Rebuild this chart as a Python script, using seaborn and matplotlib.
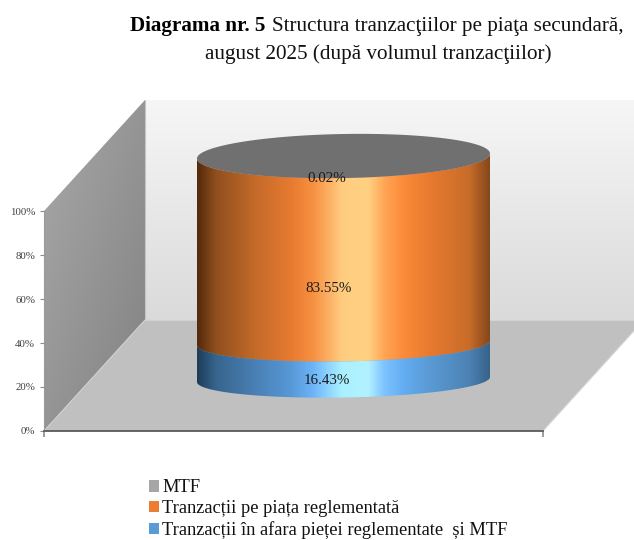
import numpy as np
import pandas as pd
import matplotlib
matplotlib.use("Agg")
import matplotlib.pyplot as plt
from matplotlib.colors import LinearSegmentedColormap
from matplotlib.patches import Polygon, Patch
import seaborn as sns

# ---- data -------------------------------------------------------------
series = ["MTF", "Tranzacții pe piața reglementată", "Tranzacții în afara pieței reglementate  și MTF"]
values = [0.02, 83.55, 16.43]
value_labels = ["0.02%", "83.55%", "16.43%"]
y_ticks = [0, 20, 40, 60, 80, 100]
y_tick_labels = ["0%", "20%", "40%", "60%", "80%", "100%"]
legend_colors = ["#a6a6a6", "#ed7d31", "#5b9bd5"]

# ---- style ------------------------------------------------------------
sns.set_theme(style="white")
plt.rcParams["font.family"] = ["Liberation Serif", "DejaVu Serif"]
W, H = 634, 540
fig = plt.figure(figsize=(W / 100, H / 100), dpi=100, facecolor="white")

def add_px_axes(x0, y_top, x1, y_bot):
    return fig.add_axes([x0 / W, 1 - y_bot / H, (x1 - x0) / W, (y_bot - y_top) / H])

# ---- 3-D frame (pixel space decoration) --------------------------------
bg = add_px_axes(0, 0, W, H)
bg.set_xlim(0, W); bg.set_ylim(H, 0); bg.axis("off")

def grad_poly(ax, pts, colors, diagonal=False, **kw):
    cmap = LinearSegmentedColormap.from_list("g", colors)
    pts = np.array(pts, float)
    x0, x1, y0, y1 = pts[:, 0].min(), pts[:, 0].max(), pts[:, 1].min(), pts[:, 1].max()
    v = np.linspace(0, 1, 256)
    arr = (v[:, None] + v[None, :]) / 2 if diagonal else v[:, None]
    im = ax.imshow(arr, cmap=cmap, extent=[x0, x1, y1, y0], aspect="auto", origin="upper", vmin=0, vmax=1)
    p = Polygon(pts, closed=True, transform=ax.transData, fc="none", ec="none")
    ax.add_patch(p)
    im.set_clip_path(p)

grad_poly(bg, [(145, 100), (634, 100), (634, 320), (145, 320)], ["#f6f6f6", "#dadada"])
grad_poly(bg, [(44, 211), (145, 100), (145, 320), (44, 431)], ["#a8a8a8", "#828282"], diagonal=True)
bg.add_patch(Polygon([(44, 431), (145, 320), (634, 320), (634, 331), (543, 431)], fc="#c0c0c0", ec="none"))
bg.plot([145, 145], [100, 320], color="#c4c4c4", lw=0.8)
bg.plot([44, 145], [431, 320], color="#d0d0d0", lw=0.8)
bg.plot([145, 634], [320, 320], color="#d2d2d2", lw=0.8)
bg.plot([543, 634], [431, 331], color="#d8d8d8", lw=0.8)
bg.set_xlim(0, W); bg.set_ylim(H, 0)

# ---- value axis --------------------------------------------------------
ax = add_px_axes(44, 211, 543, 431)
ax.patch.set_alpha(0)
ax.set_ylim(0, 100); ax.set_xlim(0, 1)
ax.set_yticks(y_ticks, y_tick_labels)
ax.set_xticks([0, 1], ["", ""])
ax.tick_params(axis="y", length=2.9, width=0.8, color="#8c8c8c", labelcolor="#404040", labelsize=7.8, pad=3.5, left=True)
ax.tick_params(axis="x", length=4, width=1.2, color="#8c8c8c", bottom=True)
for s in ["top", "right"]:
    ax.spines[s].set_visible(False)
ax.spines["left"].set_color("#9a9a9a"); ax.spines["left"].set_linewidth(0.8)
ax.spines["bottom"].set_color("#5a5a5a"); ax.spines["bottom"].set_linewidth(1.3)

# ---- cylinder: stacked values on a percent axis --------------------------
Y0_PX, Y100_PX = 379.5, 156.0
px_per = (Y0_PX - Y100_PX) / 100
PAD = 15
cyl = add_px_axes(197, Y100_PX - PAD * px_per, 490, Y0_PX + PAD * px_per)
cyl.patch.set_alpha(0)

tops = np.cumsum(values[::-1])[::-1]
df = pd.DataFrame({"group": ["total"] * 3, "top": tops, "series": series})
sns.barplot(data=df, x="group", y="top", hue="series", hue_order=series, dodge=False,
            width=1.0, palette=legend_colors, legend=False, errorbar=None, ax=cyl)
cyl.set_xlim(-0.5, 0.5)
cyl.set_ylim(-PAD, 100 + PAD)
cyl.axis("off")

def tilt(x):
    return 2.24 * x

def semi(y):
    return (18 + 4 * y / 100) * (1 / px_per) * 1.0

def front_arc(y):
    t = np.linspace(np.pi, 2 * np.pi, 200)
    x = 0.5 * np.cos(t)
    return x, y + tilt(x) + semi(y) * np.sin(t)

stops_x = [197, 215, 255, 290, 312, 325, 342, 368, 385, 405, 430, 470, 490]
orange = ["#54290c", "#8f4f1e", "#c46a2a", "#e67a30", "#f78f40", "#fba85c", "#ffcd80", "#ffd182",
          "#ffa454", "#fb8a38", "#e87a30", "#c86c29", "#84481c"]
blue = ["#1e3c58", "#36648c", "#4a80b5", "#5698d6", "#6cb2f6", "#86cdff", "#aaf0ff", "#b2f2ff",
        "#7cc2ff", "#62acf0", "#5a9ad4", "#4c82b4", "#38628a"]
pos = [(s - 197) / (490 - 197) for s in stops_x]

bars = [c[0] for c in cyl.containers]
for patch, lo, colors in [(bars[1], tops[2], orange), (bars[2], 0.0, blue)]:
    hi = patch.get_height()
    xa, ya = front_arc(lo)
    xb, yb = front_arc(hi)
    body = Polygon(np.r_[np.c_[xa, ya], np.c_[xb[::-1], yb[::-1]]], closed=True,
                   transform=cyl.transData, fc="none", ec="none")
    cyl.add_patch(body)
    patch.set_clip_path(body)
    cm = LinearSegmentedColormap.from_list("c", list(zip(pos, colors)))
    im = cyl.imshow(np.linspace(0, 1, 512)[None, :], cmap=cm, aspect="auto", vmin=0, vmax=1,
                    extent=[-0.5, 0.5, -PAD, 100 + PAD], zorder=3)
    im.set_clip_path(body)

# top face of the stack (MTF)
t = np.linspace(0, 2 * np.pi, 400)
x_top = 0.5 * np.cos(t)
top_h = bars[0].get_height()
top_y = top_h + tilt(x_top) + semi(top_h) * np.sin(t)
lid = Polygon(np.c_[x_top, top_y], closed=True, fc="#707070", ec="none", zorder=4)
cyl.add_patch(lid)
bars[0].set_clip_path(lid)
cyl.set_xlim(-0.5, 0.5)
cyl.set_ylim(-PAD, 100 + PAD)

# data labels
for lab, yy, xx in zip(value_labels, [89.8, 40.6, -0.4], [-0.0565, -0.0525, -0.0555]):
    cyl.text(xx, yy, lab, ha="center", va="center", fontsize=10.8, color="#1a1a1a", zorder=6)

# ---- title --------------------------------------------------------------
fig.text(130 / W, 1 - 31 / H, "Diagrama nr. 5", fontsize=15.2, fontweight="bold", color="black", va="baseline")
fig.text(272 / W, 1 - 31 / H, "Structura tranzacţiilor pe piaţa secundară,", fontsize=15.2, color="#111111", va="baseline")
fig.text(378 / W, 1 - 59 / H, "august 2025 (după volumul tranzacţiilor)", fontsize=15.2, color="#111111",
         ha="center", va="baseline")

# ---- legend --------------------------------------------------------------
handles = [Patch(fc=c, ec="none") for c in legend_colors]
fig.legend(handles, series, frameon=False, loc="upper left", bbox_to_anchor=(149 / W, 1 - 479.5 / H),
           borderaxespad=0, borderpad=0, fontsize=13.3, handlelength=0.55, handleheight=0.55,
           handletextpad=0.18, labelspacing=0.21, labelcolor="#111111")

fig.savefig("out.png", dpi=100, facecolor="white")
